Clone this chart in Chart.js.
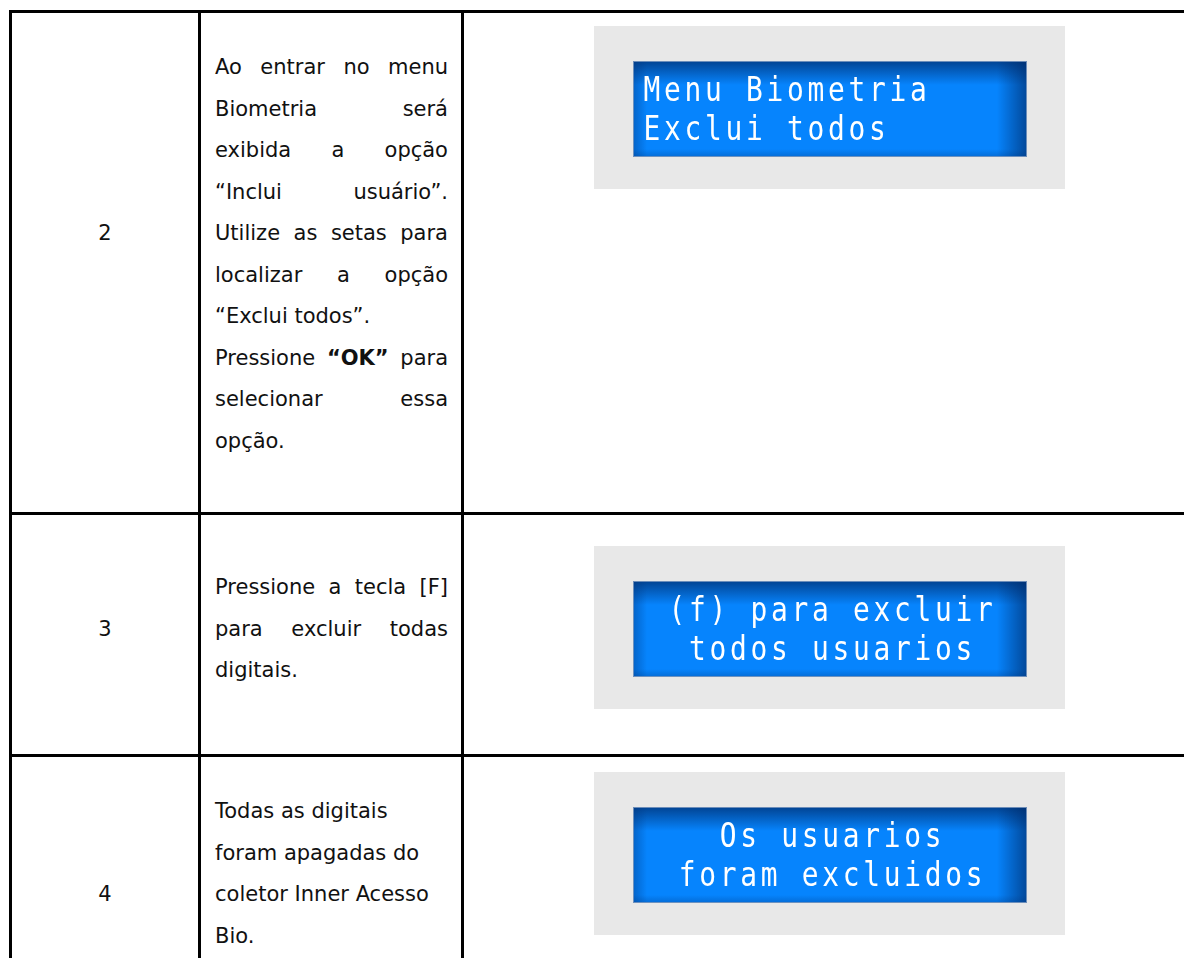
<!DOCTYPE html>
<html lang="pt-BR">
<head>
<meta charset="utf-8">
<script src="https://cdn.jsdelivr.net/npm/chart.js@4/dist/chart.umd.min.js"></script>
<style>
  html, body { margin:0; padding:0; background:#fff; }
  body { width:1184px; height:958px; overflow:hidden; position:relative; font-family:"DejaVu Sans", sans-serif; color:#111; }
  .celula { position:absolute; box-sizing:border-box; border-left:3px solid #000; border-top:3px solid #000; font-size:21px; line-height:41.5px; }
  .num { text-align:center; }
  .texto { padding-left:14px; padding-right:13px; }
  .texto p { margin:0; }
  .just p { text-align:justify; }
  .painel { position:absolute; left:594px; width:471px; height:163px; background:#e8e8e8; }
  .lcd { position:absolute; left:39px; top:35px; width:394px; height:96px; }
</style>
</head>
<body>
<div id="tabela"></div>

<script>
// Passos do menu Biometria (Inner Acesso Bio)

const passos = ['2', '3', '4'];

const textosPassos = [
  ['Ao entrar no menu Biometria será exibida a opção “Inclui usuário”. Utilize as setas para localizar a opção “Exclui todos”.',
   'Pressione “OK” para selecionar essa opção.'],
  ['Pressione a tecla [F] para excluir todas digitais.'],
  ['Todas as digitais foram apagadas do coletor Inner Acesso Bio.']
];

const termosNegrito = ['“OK”'];

const telasLcd = [
  ['Menu Biometria', 'Exclui todos'],
  ['(f) para excluir', 'todos usuarios'],
  ['Os usuarios', 'foram excluidos']
];

const alinhamentoLcd = ['left', 'center', 'center'];

// layout da tabela (px)
const topoLinhas = [10, 512, 754];
const alturaLinhas = [502, 242, 300];
const colunas = [{ left: 9, w: 189 }, { left: 198, w: 263 }, { left: 461, w: 800 }];
const padNum = [200, 93.5, 117];
const padTexto = [34, 52, 34];
const topoPainel = [26, 546, 772];
const colunasLcd = 16;

// uma span por palavra, para o texto justificado
function paragrafoHtml(txt) {
  return txt.split(' ').map(w => {
    const negrito = termosNegrito.includes(w);
    return negrito ? `<b>${w}</b>` : `<span>${w}</span>`;
  }).join(' ');
}

function montarTabela() {
  const cont = document.getElementById('tabela');
  let html = '';
  passos.forEach((p, i) => {
    const top = topoLinhas[i], h = alturaLinhas[i];
    html += `<div class="celula num" style="left:${colunas[0].left}px;top:${top}px;width:${colunas[0].w}px;height:${h}px;padding-top:${padNum[i]}px;">${p}</div>`;
    const just = i < 2 ? ' just' : '';
    html += `<div class="celula texto${just}" style="left:${colunas[1].left}px;top:${top}px;width:${colunas[1].w}px;height:${h}px;padding-top:${padTexto[i]}px;">` +
      textosPassos[i].map(par => `<p>${paragrafoHtml(par)}</p>`).join('') + '</div>';
    html += `<div class="celula" style="left:${colunas[2].left}px;top:${top}px;width:${colunas[2].w}px;height:${h}px;"></div>`;
    html += `<div class="painel" style="top:${topoPainel[i]}px;"><div class="lcd"><canvas id="lcd-${i}" width="394" height="96"></canvas></div></div>`;
  });
  cont.innerHTML = html;
}

// fundo azul com sombra nas bordas
const fundoLcd = {
  id: 'fundoLcd',
  beforeDraw(chart) {
    const { ctx, chartArea: a } = chart;
    const w = a.right - a.left, h = a.bottom - a.top;
    ctx.save();
    ctx.fillStyle = '#0684fd';
    ctx.fillRect(a.left, a.top, w, h);
    let g = ctx.createLinearGradient(0, a.top, 0, a.top + 24);
    g.addColorStop(0, 'rgba(0,45,110,0.75)');
    g.addColorStop(1, 'rgba(0,45,110,0)');
    ctx.fillStyle = g; ctx.fillRect(a.left, a.top, w, 24);
    g = ctx.createLinearGradient(a.right, 0, a.right - 30, 0);
    g.addColorStop(0, 'rgba(0,40,100,0.65)');
    g.addColorStop(1, 'rgba(0,40,100,0)');
    ctx.fillStyle = g; ctx.fillRect(a.right - 30, a.top, 30, h);
    g = ctx.createLinearGradient(a.left, 0, a.left + 14, 0);
    g.addColorStop(0, 'rgba(0,50,120,0.4)');
    g.addColorStop(1, 'rgba(0,50,120,0)');
    ctx.fillStyle = g; ctx.fillRect(a.left, a.top, 14, h);
    g = ctx.createLinearGradient(0, a.bottom, 0, a.bottom - 8);
    g.addColorStop(0, 'rgba(0,50,120,0.3)');
    g.addColorStop(1, 'rgba(0,50,120,0)');
    ctx.fillStyle = g; ctx.fillRect(a.left, a.bottom - 8, w, 8);
    ctx.strokeStyle = 'rgba(120,150,190,0.9)';
    ctx.lineWidth = 1;
    ctx.strokeRect(a.left + 0.5, a.top + 0.5, w - 1, h - 1);
    ctx.restore();
  }
};

// desenha cada caractere no ponto da grade
const caracteresLcd = {
  id: 'caracteresLcd',
  afterDatasetsDraw(chart) {
    const { ctx } = chart;
    const meta = chart.getDatasetMeta(0);
    const dados = chart.data.datasets[0].data;
    ctx.save();
    ctx.fillStyle = '#ffffff';
    ctx.font = '34px "DejaVu Sans Mono", monospace';
    ctx.textAlign = 'center';
    ctx.textBaseline = 'alphabetic';
    meta.data.forEach((pt, i) => {
      ctx.save();
      ctx.translate(pt.x, pt.y + 12.4);
      ctx.scale(0.82, 1);
      ctx.fillText(dados[i].c, 0, 0);
      ctx.restore();
    });
    ctx.restore();
  }
};

function pontosLcd(linhas, alinhamento) {
  const pts = [];
  linhas.forEach((txt, lin) => {
    const ini = alinhamento === 'center' ? (colunasLcd - txt.length) / 2 : 0;
    [...txt].forEach((c, k) => {
      if (c !== ' ') pts.push({ x: ini + k, y: lin, c });
    });
  });
  return pts;
}

function renderLcd(i) {
  const ctx = document.getElementById('lcd-' + i);
  const xMin = alinhamentoLcd[i] === 'center' ? -2.146 : -0.927;
  new Chart(ctx, {
    type: 'scatter',
    data: {
      datasets: [{
        data: pontosLcd(telasLcd[i], alinhamentoLcd[i]),
        pointRadius: 0,
        pointHoverRadius: 0
      }]
    },
    options: {
      responsive: false,
      animation: false,
      events: [],
      layout: { padding: 0 },
      plugins: { legend: { display: false }, tooltip: { enabled: false } },
      scales: {
        x: { type: 'linear', display: false, min: xMin, max: xMin + 394 / 20.5 },
        y: { type: 'linear', display: false, reverse: true, min: -0.727, max: -0.727 + 96 / 38.5 }
      }
    },
    plugins: [fundoLcd, caracteresLcd]
  });
}

montarTabela();
telasLcd.forEach((_, i) => renderLcd(i));
</script>
</body>
</html>
